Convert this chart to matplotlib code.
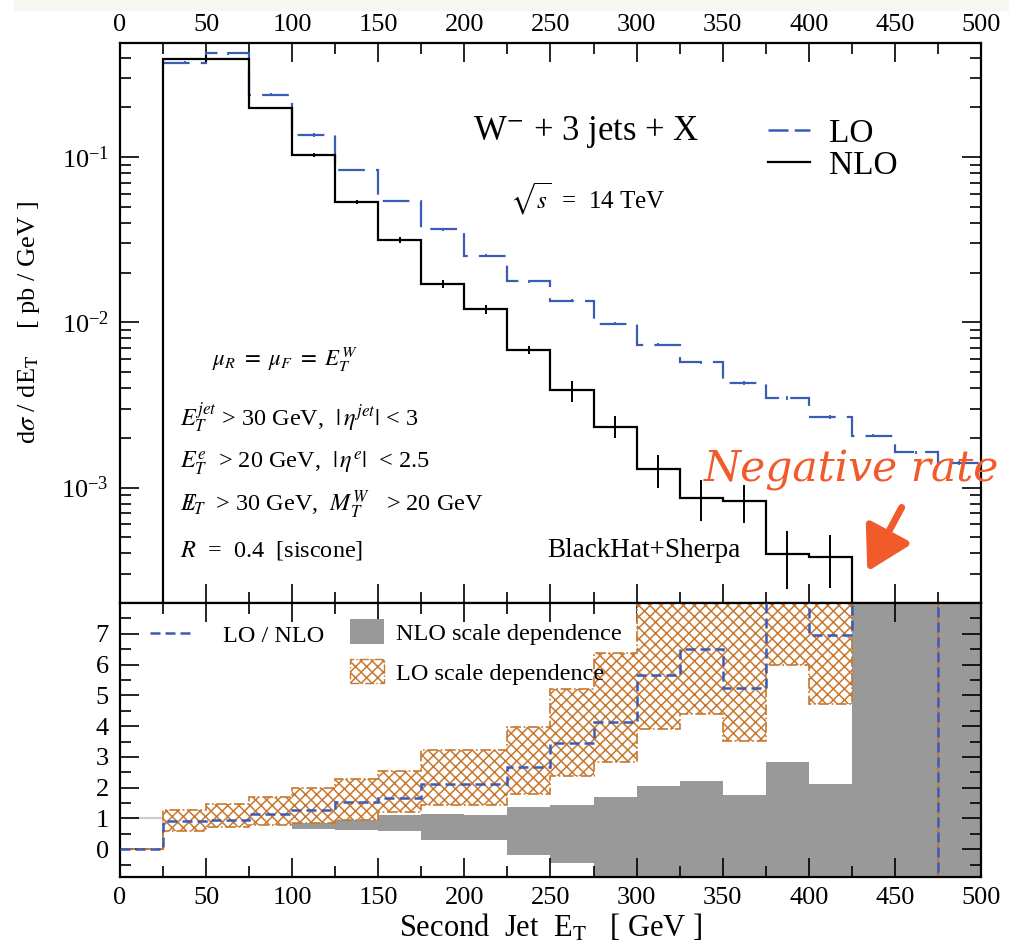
import numpy as np
import matplotlib
matplotlib.use("Agg")
import matplotlib.pyplot as plt
from matplotlib.patches import Patch, Rectangle, FancyArrowPatch
from matplotlib.lines import Line2D
from matplotlib.ticker import MultipleLocator, LogLocator, NullFormatter, FixedLocator

# ---------------- data ----------------
# top panel: NLO (first bin is 25-75)
nlo_edges = [25, 75, 100, 125, 150, 175, 200, 225, 250, 275, 300, 325, 350, 375, 400, 425]
nlo_vals = [0.394, 0.199, 0.103, 0.0532, 0.0316, 0.0171, 0.0120, 0.00682, 0.00387,
            0.00234, 0.00129, 0.000866, 0.000823, 0.000394, 0.000381]
nlo_errs = [0.02, 0.0, 0.003, 0.0015, 0.0013, 0.001, 0.0007, 0.0004, 0.00056,
            0.00036, 0.00029, 0.00024, 0.00021, 0.00015, 0.000134]

# top panel: LO
lo_edges = [25, 50, 75, 100, 125, 150, 175, 200, 225, 250, 275, 300, 325, 350, 375,
            400, 425, 450, 475, 500]
lo_vals = [0.373, 0.424, 0.239, 0.136, 0.0834, 0.0542, 0.0366, 0.0253, 0.0177, 0.0135,
           0.00979, 0.00731, 0.00571, 0.00429, 0.00348, 0.00267, 0.00206, 0.00163, 0.0014]
lo_errs = [0.006, 0.007, 0.005, 0.003, 0.0015, 0.001, 0.0007, 0.0005, 0.0004, 0.0003,
           0.0002, 0.00015, 0.00012, 0.0001, 0.00008, 0.00007, 0.00005, 0.00004, 0.00004]

# bottom panel (bins 0..500 step 25)
ratio_edges = [0, 25, 50, 75, 100, 125, 150, 175, 200, 225, 250, 275, 300, 325, 350,
               375, 400, 425, 450, 475, 500]
ratio_vals = [0, 0.92, 0.96, 1.13, 1.28, 1.52, 1.67, 2.13, 2.13, 2.67, 3.44, 4.14, 5.66,
              6.51, 5.23, 9.5, 6.95, 20, 20, -20]
lo_band_hi = [0, 1.29, 1.46, 1.69, 2.0, 2.29, 2.53, 3.23, 3.23, 3.98, 5.22, 6.39, 12, 12,
              12, 12, 12, 30, 30, -12]
lo_band_lo = [0, 0.59, 0.72, 0.78, 0.86, 0.96, 1.2, 1.45, 1.45, 1.78, 2.39, 2.83, 3.91,
              4.41, 3.53, 5.99, 4.73, 12, 12, -30]
nlo_band_hi = [0, 1.05, 1.05, 1.05, 1.0, 1.05, 1.10, 1.15, 1.10, 1.38, 1.45, 1.69, 2.04,
               2.23, 1.75, 2.85, 2.13, 30, 30, 30]
nlo_band_lo = [0, 0.85, 0.85, 0.8, 0.67, 0.63, 0.58, 0.29, 0.29, -0.18, -0.44, -3, -3,
               -3, -3, -3, -3, -30, -30, -30]

ratio_ticks = [0, 1, 2, 3, 4, 5, 6, 7]

# ---------------- style ----------------
plt.rcParams["font.family"] = ["Liberation Serif", "DejaVu Serif"]
plt.rcParams["mathtext.fontset"] = "stix"
plt.rcParams["hatch.linewidth"] = 1.1

BLUE = "#3a5cb4"
ORANGE = "#c8782f"
GREY = "#999999"
RED = "#f15a2b"

fig = plt.figure(figsize=(10.09, 9.52), dpi=100)
fig.add_artist(Rectangle((14 / 1009, 1 - 10 / 952), 1, 10 / 952,
                         transform=fig.transFigure, color="#f7f6f1", zorder=0))

L, W = 0.1189, 0.8533
ax1 = fig.add_axes([L, 0.3666, W, 0.5882])
ax2 = fig.add_axes([L, 0.0788, W, 0.2878])


def style_axis(ax):
    for s in ax.spines.values():
        s.set_linewidth(1.6)
    ax.tick_params(which="both", direction="in", top=True, right=True, width=1.2,
                   labelsize=19)
    ax.tick_params(which="major", length=14)
    ax.tick_params(which="minor", length=8)
    ax.xaxis.set_major_locator(MultipleLocator(50))
    ax.xaxis.set_minor_locator(MultipleLocator(25))
    ax.set_xlim(0, 500)


# ---------------- top panel ----------------
style_axis(ax1)
ax1.set_yscale("log")
ax1.set_ylim(2.0e-4, 0.49)
ax1.yaxis.set_major_locator(LogLocator(base=10))
ax1.yaxis.set_minor_locator(LogLocator(base=10, subs=np.arange(2, 10)))
ax1.yaxis.set_minor_formatter(NullFormatter())
ax1.tick_params(axis="x", labeltop=True, labelbottom=False, pad=5)
ax1.tick_params(axis="y", pad=8)

ax1.stairs(lo_vals, lo_edges, baseline=None, color=BLUE, lw=1.6,
           linestyle=(0, (12, 5)), zorder=2)
lo_x = 0.5 * (np.array(lo_edges[:-1]) + np.array(lo_edges[1:]))
ax1.errorbar(lo_x, lo_vals, yerr=lo_errs, fmt="none", ecolor=BLUE, elinewidth=1.3,
             capsize=0, zorder=2)
ax1.stairs(nlo_vals, nlo_edges, baseline=1e-6, color="black", lw=1.6, zorder=3)
nlo_x = 0.5 * (np.array(nlo_edges[:-1]) + np.array(nlo_edges[1:]))
ax1.errorbar(nlo_x, nlo_vals, yerr=nlo_errs, fmt="none", ecolor="black",
             elinewidth=1.4, capsize=0, zorder=3)

ax1.set_ylabel(r"d$\sigma$ / dE$_\mathrm{T}$    [ pb / GeV ]", fontsize=19, labelpad=14)

ax1.legend(handles=[Line2D([], [], color=BLUE, lw=1.8, linestyle=(0, (8, 2.5))),
                    Line2D([], [], color="black", lw=1.6)],
           labels=["LO", "NLO"], loc="upper left", bbox_to_anchor=(0.753, 0.866),
           frameon=False, fontsize=24, handlelength=1.26, handletextpad=0.55,
           labelspacing=0.05, borderpad=0, borderaxespad=0)

ax1.text(0.41, 0.842, r"W$^{-}$ + 3 jets + X", transform=ax1.transAxes, fontsize=25,
         va="center", ha="left")
ax1.text(0.453, 0.722, r"$\sqrt{s}$  =  14 TeV", transform=ax1.transAxes, fontsize=18,
         va="center", ha="left")

ax1.text(0.107, 0.434, r"$\mu_R\ =\ \mu_F\ =\ E_T^W$", transform=ax1.transAxes,
         fontsize=16.5, va="center")
ax1.text(0.0697, 0.330, r"$E_T^{jet}$ > 30 GeV,  $|\,\eta^{jet}|$ < 3",
         transform=ax1.transAxes, fontsize=17.5, va="center")
ax1.text(0.0697, 0.25, r"$E_T^{e}$  > 20 GeV,  $|\,\eta^{e}|$  < 2.5",
         transform=ax1.transAxes, fontsize=17.5, va="center")
ax1.text(0.0697, 0.175, r"$E\!\!\!/_T$  > 30 GeV,  $M_T^W$   > 20 GeV",
         transform=ax1.transAxes, fontsize=17.5, va="center")
ax1.text(0.0697, 0.0946, r"$R$  =  0.4  [siscone]", transform=ax1.transAxes,
         fontsize=17.5, va="center")
ax1.text(0.496, 0.0946, "BlackHat+Sherpa", transform=ax1.transAxes, fontsize=19.5,
         va="center")

fig.text(0.698, 0.5063, "Negative rate", color=RED, fontsize=30.5, style="italic",
         family="DejaVu Serif", va="center", ha="left")
fig.add_artist(FancyArrowPatch((903 / 1009, 1 - 505 / 952), (866 / 1009, 1 - 574 / 952),
                               transform=fig.transFigure, color=RED, lw=5,
                               arrowstyle="-|>,head_length=1.3,head_width=0.75",
                               mutation_scale=20))

# ---------------- bottom panel ----------------
style_axis(ax2)
ax2.set_ylim(-0.9, 8)
ax2.yaxis.set_major_locator(FixedLocator(ratio_ticks))
ax2.yaxis.set_minor_locator(MultipleLocator(0.5))
ax2.tick_params(axis="x", pad=7)
ax2.tick_params(axis="y", pad=8)

ax2.axhline(1, color="#cccccc", lw=1.5, zorder=0.5)
ax2.stairs(nlo_band_hi, ratio_edges, baseline=nlo_band_lo, fill=True, color=GREY,
           lw=0, zorder=1)
ax2.stairs(lo_band_hi, ratio_edges, baseline=lo_band_lo, fill=True, facecolor="white",
           edgecolor=ORANGE, hatch="xxx", linestyle="-.", lw=1.2, zorder=2)
ax2.stairs(ratio_vals, ratio_edges, baseline=None, color=BLUE, lw=1.8,
           linestyle=(0, (4, 2)), zorder=3)

ax2.set_xlabel(r"Second  Jet  E$_\mathrm{T}$   [ GeV ]", fontsize=22, labelpad=3)

legA = ax2.legend(handles=[Line2D([], [], color=BLUE, lw=1.8, linestyle=(0, (4, 2)))],
                  labels=["LO / NLO"], loc="upper left", bbox_to_anchor=(0.035, 0.92),
                  frameon=False, fontsize=17.5, handlelength=1.8, handletextpad=1.2,
                  borderpad=0, borderaxespad=0)
ax2.add_artist(legA)
ax2.legend(handles=[Patch(facecolor=GREY, edgecolor="none"),
                    Patch(facecolor="white", edgecolor=ORANGE, hatch="xxx",
                          linestyle="-.", lw=1.0)],
           labels=["NLO scale dependence", "LO scale dependence"], loc="upper left",
           bbox_to_anchor=(0.267, 0.94), frameon=False, fontsize=17.5, handlelength=1.4,
           handleheight=1.15, handletextpad=0.5, labelspacing=0.6, borderpad=0,
           borderaxespad=0)

fig.savefig("out.png", dpi=100)
